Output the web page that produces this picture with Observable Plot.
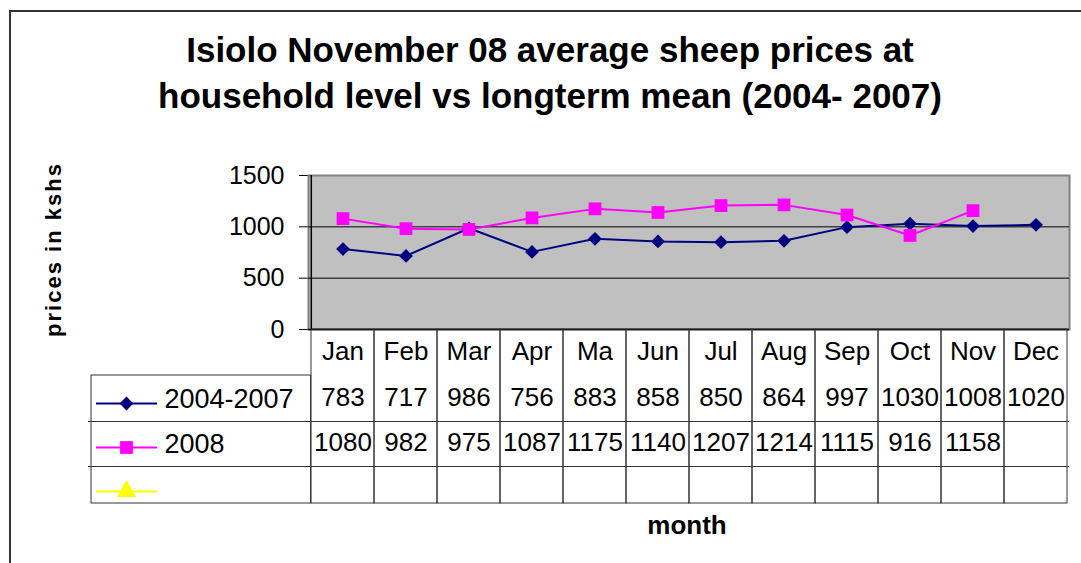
<!DOCTYPE html>
<html><head><meta charset="utf-8">
<script src="https://cdn.jsdelivr.net/npm/d3@7"></script>
<script src="https://cdn.jsdelivr.net/npm/@observablehq/plot@0.6"></script>
<style>
body{margin:0;background:#fff;font-family:"Liberation Sans",Arial,sans-serif}
#wrap{position:relative;width:1081px;height:563px;overflow:hidden;background:#fff}
#title{position:absolute;left:0;top:27px;width:1100px;text-align:center;font-weight:bold;font-size:35px;line-height:46px;color:#000}
#chart{position:absolute;left:0;top:0}
#border{position:absolute;left:9px;top:10px;width:1200px;height:700px;border-left:2px solid #333;border-top:2px solid #333}
</style></head>
<body><div id="wrap"><div id="chart"></div><div id="border"></div><div id="title">Isiolo November 08 average sheep prices at<br>household level vs longterm mean (2004- 2007)</div></div>
<script>
const months = ["Jan","Feb","Mar","Apr","Ma","Jun","Jul","Aug","Sep","Oct","Nov","Dec"];
const longterm = [783,717,986,756,883,858,850,864,997,1030,1008,1020];
const y2008 = [1080,982,975,1087,1175,1140,1207,1214,1115,916,1158,null];
const seriesNames = ["2004-2007","2008",""];
const seriesColors = ["#000080","#FF00FF","#FFFF00"];
const seriesSymbols = ["diamond2","square","triangle"];
const yTicks = [0,500,1000,1500];

const rows = months.map((m,i)=>({month:m, a:longterm[i], b:y2008[i]}));

const W=1081, H=563, mL=308, mR=12, mT=175, mB=234;
const bw = (W-mL-mR)/months.length;
const lineCol = "#333";
const fs = 26;

const legendDy = [74,118,162];
const legendTextDy = [78,123];

const marks = [
  Plot.frame({fill:"#C0C0C0", stroke:"#808080", strokeWidth:2}),
  Plot.ruleY(yTicks.filter(t=>t>0 && t<1500), {stroke:"#000", strokeWidth:1}),
  Plot.ruleY([0], {stroke:"#000", strokeWidth:1.5}),
  Plot.ruleX([months[0]], {dx:-bw/2, stroke:"#000", strokeWidth:1.5}),
  // table columns
  Plot.barY(months, {x:d=>d, y1:()=>0, y2:()=>0, insetTop:0, insetBottom:-174, fill:"none", stroke:lineCol, strokeWidth:1}),
  // legend column box
  Plot.barY([months[0]], {x:d=>d, y1:()=>0, y2:()=>0, insetTop:46, insetBottom:-174, insetLeft:-220, insetRight:bw, fill:"none", stroke:lineCol, strokeWidth:1}),
  // row lines
  Plot.ruleY([0], {dy:92, insetLeft:-220, stroke:lineCol, strokeWidth:1}),
  Plot.ruleY([0], {dy:137, insetLeft:-220, stroke:lineCol, strokeWidth:1}),
  // header month labels
  Plot.text(months, {x:d=>d, frameAnchor:"bottom", dy:30, fontSize:fs, fill:"#000"}),
  // values rows
  Plot.text(rows, {x:"month", text:d=>String(d.a), frameAnchor:"bottom", dy:76, fontSize:fs, fill:"#000"}),
  Plot.text(rows.filter(d=>d.b!=null), {x:"month", text:d=>String(d.b), frameAnchor:"bottom", dy:121, fontSize:fs, fill:"#000"}),
  // data lines
  Plot.line(rows, {x:"month", y:"a", stroke:seriesColors[0], strokeWidth:2}),
  Plot.line(rows, {x:"month", y:"b", stroke:seriesColors[1], strokeWidth:2}),
  Plot.dot(rows, {x:"month", y:"a", symbol:seriesSymbols[0], r:6.2, fill:seriesColors[0], stroke:"none"}),
  Plot.dot(rows.filter(d=>d.b!=null), {x:"month", y:"b", symbol:seriesSymbols[1], r:7.2, fill:seriesColors[1], stroke:"none"}),
  // axis labels
  Plot.text(["prices in kshs"], {frameAnchor:"left", dx:-255, dy:-3, rotate:-90, textAnchor:"middle", fontWeight:"bold", fontSize:22, fill:"#000"}),
  Plot.text(["month"], {frameAnchor:"bottom", dx:-2, dy:204, fontWeight:"bold", fontSize:26, fill:"#000"})
];
seriesNames.forEach((s,i)=>{
  marks.push(Plot.ruleY([0], {dy:legendDy[i], insetLeft:-212, insetRight:(W-mR)-157, stroke:seriesColors[i], strokeWidth:2}));
  marks.push(Plot.dot([0], {frameAnchor:"bottom-left", dx:-182, dy:legendDy[i], symbol:seriesSymbols[i], r:i===0?6.2:7.2, fill:seriesColors[i], stroke:"none"}));
  if (s) marks.push(Plot.text([s], {frameAnchor:"bottom-left", dx:-144, dy:legendTextDy[i], textAnchor:"start", fontSize:27, fill:"#000"}));
});

const chart = Plot.plot({
  width:W, height:H, marginLeft:mL, marginRight:mR, marginTop:mT, marginBottom:mB,
  style:{fontSize:"25px", fontFamily:'"Liberation Sans", Arial, sans-serif', background:"transparent", color:"#000"},
  x:{type:"band", domain:months, padding:0, axis:null},
  y:{domain:[0,1500], ticks:yTicks, tickSize:9, tickPadding:15, label:null, tickFormat:d=>String(d)},
  marks
});
d3.select(chart).selectAll("text").filter(function(){return this.textContent==="prices in kshs";}).attr("letter-spacing","2px");
document.getElementById("chart").appendChild(chart);
</script>
</body></html>
